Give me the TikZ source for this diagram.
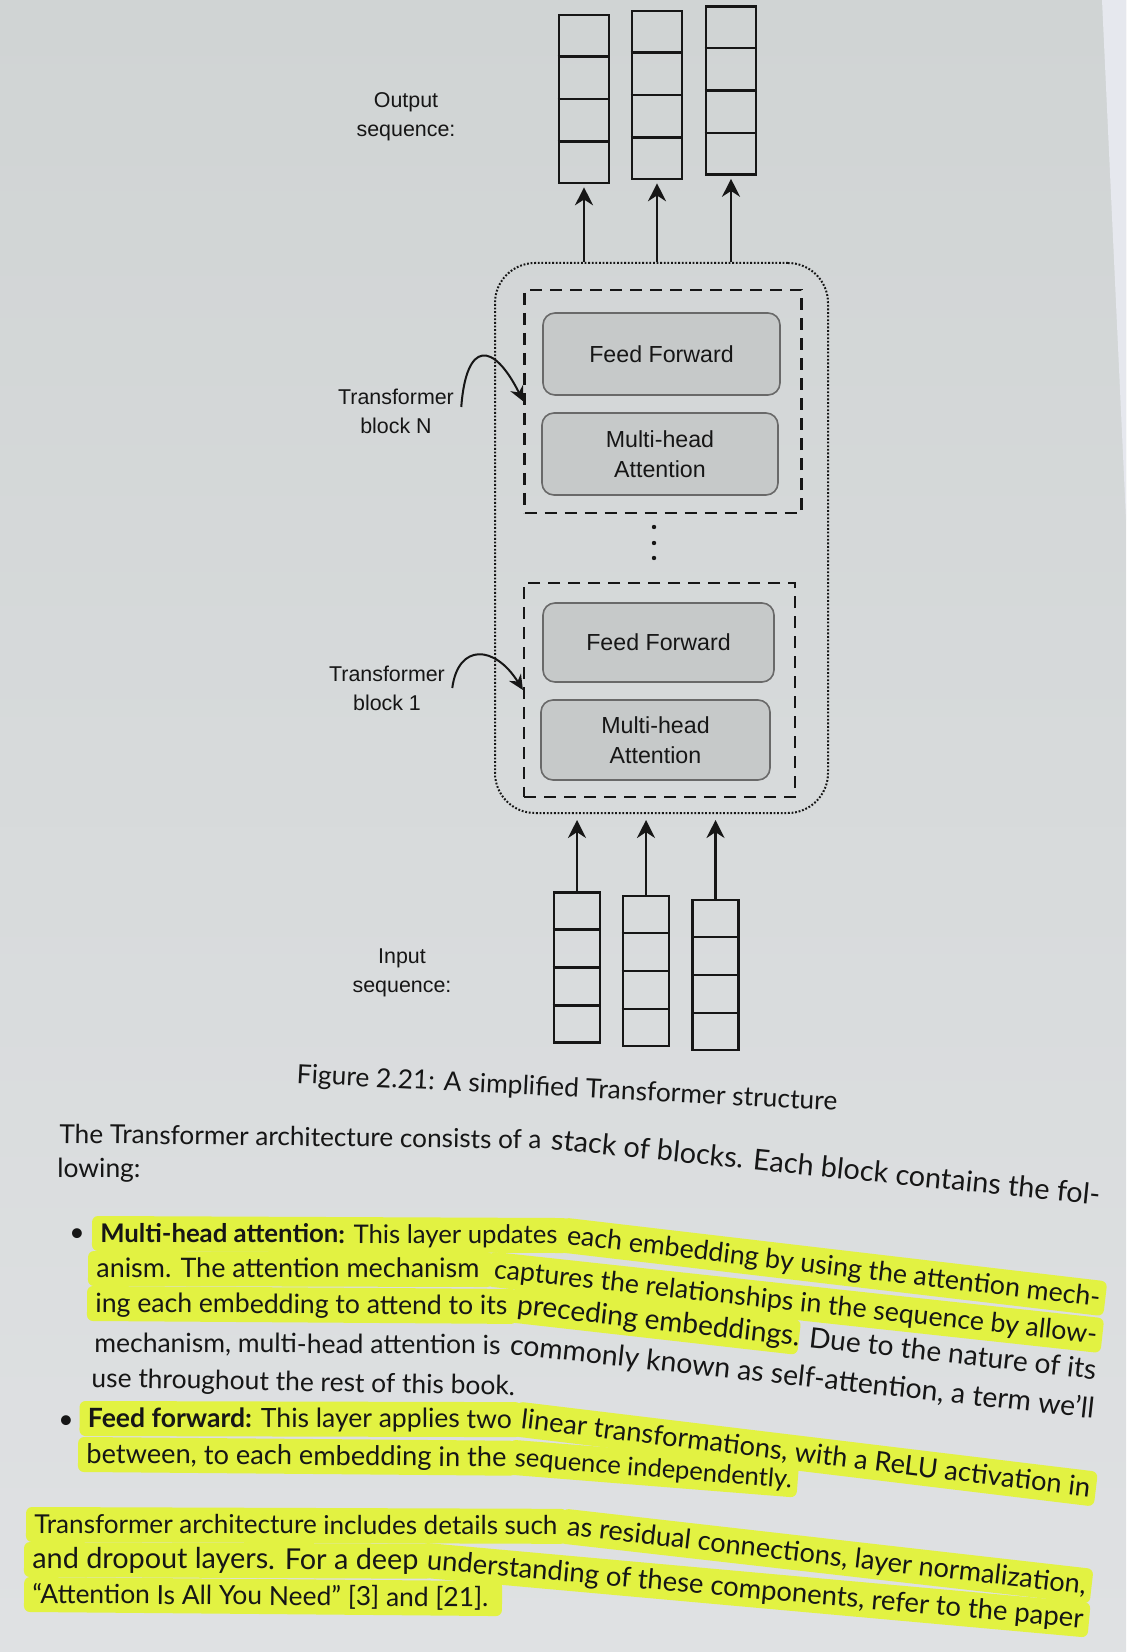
\documentclass[tikz,border=0pt]{standalone}
\usepackage{graphicx}
\usepackage{fontspec}
\setmainfont{Lato}
\newfontfamily\diagfont{Liberation Sans}
\usetikzlibrary{arrows.meta,calc}

\definecolor{papertop}{RGB}{208,212,212}
\definecolor{paperbot}{RGB}{223,225,227}
\definecolor{nextpage}{RGB}{230,232,238}
\definecolor{ink}{RGB}{22,22,22}
\definecolor{layerfill}{RGB}{198,201,201}
\definecolor{layerline}{RGB}{105,105,105}
\definecolor{marker}{RGB}{226,242,66}

% a piece of a line scaled to an exact width (the page bends, so the type grows towards the right)
\newsavebox\fitbox
\newcommand\fitline[2]{\sbox\fitbox{#2}%
  \pgfmathsetmacro\fitsx{#1/\the\wd\fitbox}\scalebox{\fitsx}{\usebox\fitbox}}
% a piece of printed text: name, baseline start, slope angle, content
\newcommand\tseg[4]{%
  \begin{scope}[shift={#2},rotate=-#3]
    \node[txt,anchor=base west] (#1) at (0,0) {#4};
  \end{scope}}
% a marker band along a piece of text: baseline start, slope angle, start, end (px)
\newcommand\hlseg[4]{%
  \begin{scope}[shift={#1},rotate=-#2]
    \fill[marker,rounded corners=3pt] (#3,-26) rectangle (#4,9);
  \end{scope}}

\begin{document}
\begin{tikzpicture}[x=0.5pt,y=-0.5pt,
  vec/.style={draw=ink,line width=1.3pt,minimum width=25pt,minimum height=84pt,inner sep=0pt},
  invec/.style={vec,minimum width=23pt,minimum height=75pt},
  cell/.style={draw=ink,line width=1.3pt},
  layer/.style={draw=layerline,fill=layerfill,rounded corners=6pt,line width=0.8pt,
    font=\diagfont\fontsize{11.6}{15}\selectfont,align=center,inner sep=0pt,text=ink},
  block/.style={draw=ink,line width=1.1pt,dash pattern=on 6pt off 4pt},
  stack/.style={draw=ink,line width=1pt,dash pattern=on 0.9pt off 0.9pt,rounded corners=20pt},
  lbl/.style={font=\diagfont\fontsize{10.7}{14.5}\selectfont,align=center,text=ink,inner sep=0pt},
  up/.style={draw=ink,line width=1.1pt,-{Stealth[length=9pt,width=9pt]}},
  curvearrow/.style={draw=ink,line width=1pt,-{Stealth[length=7.5pt,width=7pt]}},
  txt/.style={font=\fontsize{13.2}{16}\selectfont,inner sep=0pt,text=ink,transform shape}]

\useasboundingbox (0,0) rectangle (1126,1652);
\shade[top color=papertop,bottom color=paperbot] (0,0) rectangle (1126,1652);
\fill[nextpage] (1102,0) -- (1126,0) -- (1126,520) -- cycle;

% ---- the stack of blocks
\node[stack,minimum width=166.5pt,minimum height=275pt] (stack) at (661.5,538) {};

\node[block,minimum width=138.5pt,minimum height=111.5pt] (blkN) at (663,401.5) {};
\node[layer,minimum width=118.5pt,minimum height=41pt] (ffN) at (661.5,354) {Feed Forward};
\node[layer,minimum width=118pt,minimum height=41pt] (mhaN) at (660,454) {Multi-head\\Attention};

\fill[ink] (654,527) circle (2.2) (654,543) circle (2.2) (654,558) circle (2.2);

\node[block,minimum width=135.5pt,minimum height=107pt] (blk1) at (659.5,690) {};
\node[layer,minimum width=115.5pt,minimum height=39.5pt] (ff1) at (658.5,642.5) {Feed Forward};
\node[layer,minimum width=114.5pt,minimum height=40pt] (mha1) at (655.5,740) {Multi-head\\Attention};

% ---- output and input vectors
\node[vec] (o1) at (584,99) {};
\node[vec] (o2) at (657,95) {};
\node[vec] (o3) at (731,90.5) {};
\node[invec] (i1) at (577,967.5) {};
\node[invec] (i2) at (646,971) {};
\node[invec] (i3) at (715.5,975) {};
\foreach \v in {o1,o2,o3,i1,i2,i3}
  \foreach \f in {0.25,0.5,0.75}
    \draw[cell] ($(\v.north west)!\f!(\v.south west)$) -- ($(\v.north east)!\f!(\v.south east)$);

\foreach \v in {o1,o2,o3}
  \draw[up,shorten >=1.5pt] (\v.south |- stack.north) -- (\v.south);
\foreach \v in {i1,i2,i3}
  \draw[up,shorten >=3pt] (\v.north) -- (\v.north |- stack.south);

% ---- labels
\node[lbl] (outlbl) at (406,117) {Output\\sequence:};
\node[lbl] (lblN) at (396,411) {Transformer\\block N};
\node[lbl] (lbl1) at (387,688) {Transformer\\block 1};
\node[lbl] (inlbl) at (402,973) {Input\\sequence:};

\draw[curvearrow] ([xshift=3.5pt,yshift=2pt]lblN.east) .. controls +(5,-67) and +(-30,-60) .. (blkN.west);
\draw[curvearrow] ([xshift=3.5pt]lbl1.east) .. controls +(6,-45) and +(-28,-45) .. (blk1.west);

% ---- caption
\node[txt,anchor=base west,rotate=-2.9] (caption) at (296,1083)
  {Figure 2.21: A simplified Transformer structure};

% ---- marker bands
\hlseg{(100,1242)}{0.25}{-8}{469}
\hlseg{(566,1244)}{6.7}{-6}{542}
\hlseg{(96,1277)}{0.15}{-8}{397}
\hlseg{(493,1278)}{6.2}{-6}{612}
\hlseg{(95,1312)}{0.4}{-8}{422}
\hlseg{(516,1314)}{6.45}{-6}{284}
\hlseg{(87.5,1427)}{0.15}{-8}{434}
\hlseg{(520,1428)}{6.9}{-6}{579}
\hlseg{(86,1463)}{0.5}{-8}{430}
\hlseg{(514,1466)}{4.56}{-6}{284}
\hlseg{(34,1533)}{0.2}{-8}{533}
\hlseg{(566,1535)}{6.5}{-6}{528}
\hlseg{(32,1568)}{0.25}{-8}{400}
\hlseg{(426,1569)}{5.14}{-6}{665}
\hlseg{(32,1603)}{0.5}{-8}{470}

% ---- running text
\tseg{p1a}{(59,1143)}{0.7}{\fitline{241pt}{The Transformer architecture consists of a}}
\tseg{p1b}{(550,1149)}{5.8}{\fitline{275.8pt}{stack of blocks. Each block contains the fol-}}
\tseg{p1c}{(57,1177)}{0}{lowing:}

\node[txt] (bul1) at (77,1235) {•};
\tseg{b1a}{(100,1242)}{0.25}{\fitline{228.5pt}{\textbf{Multi-head attention:} This layer updates}}
\tseg{b1b}{(566,1244)}{6.7}{\fitline{268.2pt}{each embedding by using the attention mech-}}
\tseg{b1c}{(96,1277)}{0.15}{\fitline{191.5pt}{anism. The attention mechanism}}
\tseg{b1d}{(493,1278)}{6.2}{\fitline{303.1pt}{captures the relationships in the sequence by allow-}}
\tseg{b1e}{(95,1312)}{0.4}{\fitline{206pt}{ing each embedding to attend to its}}
\tseg{b1f}{(516,1314)}{6.45}{\fitline{291.2pt}{preceding embeddings. Due to the nature of its}}
\tseg{b1g}{(94,1352)}{0.3}{\fitline{203pt}{mechanism, multi-head attention is}}
\tseg{b1h}{(509,1354)}{6.3}{\fitline{293.6pt}{commonly known as self-attention, a term we’ll}}
\tseg{b1i}{(91,1387)}{1.1}{use throughout the rest of this book.}

\node[txt] (bul2) at (66,1422) {•};
\tseg{b2a}{(87.5,1427)}{0.15}{\fitline{212pt}{\textbf{Feed forward:} This layer applies two}}
\tseg{b2b}{(520,1428)}{6.9}{\fitline{286.4pt}{linear transformations, with a ReLU activation in}}
\tseg{b2c}{(86,1463)}{0.5}{\fitline{210pt}{between, to each embedding in the}}
\tseg{b2d}{(514,1466)}{4.56}{\fitline{139pt}{sequence independently.}}

\tseg{p3a}{(34,1533)}{0.2}{\fitline{261.5pt}{Transformer architecture includes details such}}
\tseg{p3b}{(566,1535)}{6.5}{\fitline{261pt}{as residual connections, layer normalization,}}
\tseg{p3c}{(32,1568)}{0.25}{\fitline{193pt}{and dropout layers. For a deep}}
\tseg{p3d}{(426,1569)}{5.14}{\fitline{329.3pt}{understanding of these components, refer to the paper}}
\tseg{p3e}{(32,1603)}{0.5}{“Attention Is All You Need” [3] and [21].}

\end{tikzpicture}
\end{document}
